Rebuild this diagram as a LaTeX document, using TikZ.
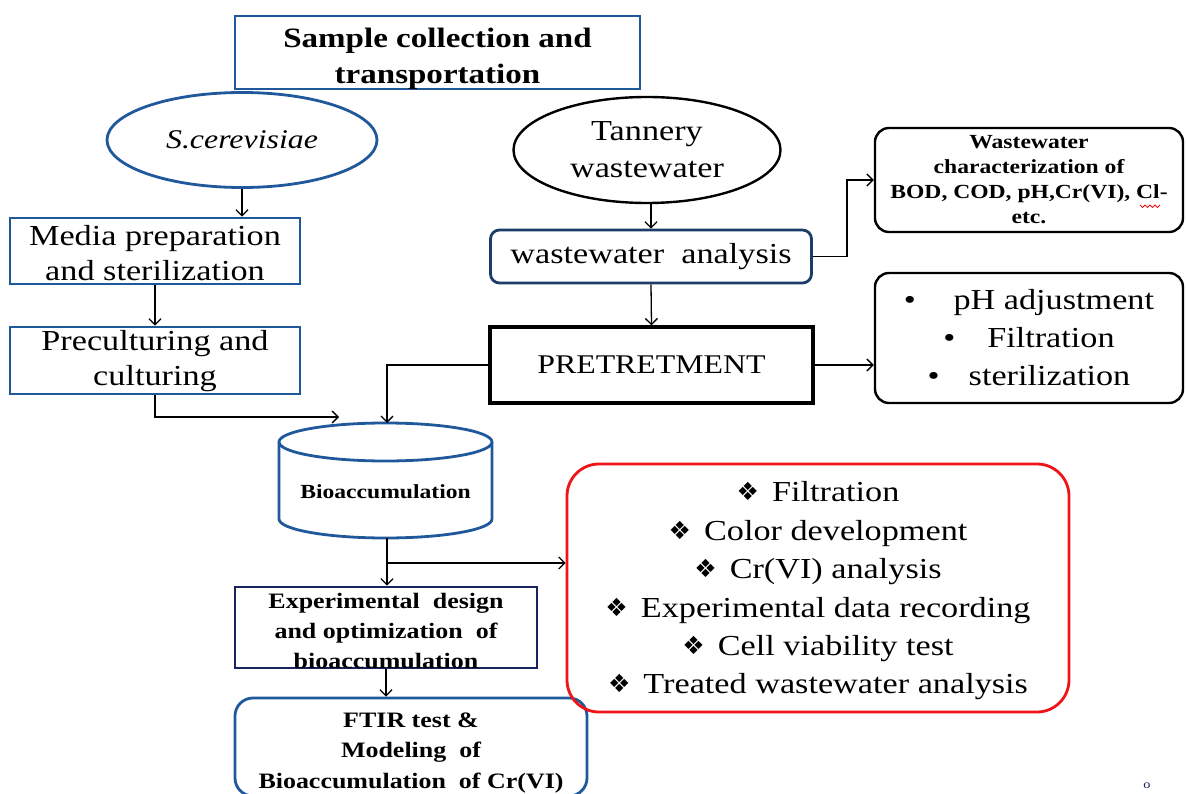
\documentclass[tikz,border=0pt]{standalone}
\usepackage{fontspec}
\setmainfont[FakeStretch=1.18]{Liberation Serif}
\newfontfamily\dejavu{DejaVu Sans}
\usetikzlibrary{arrows.meta,shapes.geometric}
\definecolor{bblue}{RGB}{32,88,156}
\definecolor{dblue}{RGB}{28,60,105}
\definecolor{navy}{RGB}{25,35,95}
\definecolor{rred}{RGB}{240,20,25}
\newcommand\fsz[2]{\fontsize{#1}{#2}\selectfont}
\newcommand\bul{\raisebox{1pt}{\dejavu\fontsize{25}{25}\selectfont ❖}\hspace{0.45em}}
\tikzset{
  bluebox/.style={draw=bblue, line width=2.8pt, inner sep=0pt, align=center},
  blackbox/.style={draw=black, line width=2.4pt, inner sep=0pt, align=center},
  arr/.style={-{Straight Barb[length=6pt,width=12pt]}, line width=1.3pt},
  txt/.style={align=center, inner sep=0pt},
}
\begin{document}
\begin{tikzpicture}[x=1pt,y=-1pt]
\fill[white] (0,0) rectangle (1186,794);
\useasboundingbox (0,0) rectangle (1186,794);

\node[bluebox, minimum width=405, minimum height=73,
  label={[txt, font={\fsz{28}{36}\bfseries}, yshift=-6pt]center:{Sample collection and\\transportation}}] (top) at (437.5,52.5) {};
\node[bluebox, ellipse, minimum width=270, minimum height=95, font={\fsz{27}{32}\itshape}] (sc) at (242,140)
  {S.cerevisiae};
\node[blackbox, ellipse, minimum width=267, minimum height=106, font={\fsz{29}{37}}] (tw) at (647,150)
  {Tannery\\wastewater};
\node[bluebox, minimum width=290, minimum height=66,
  label={[txt, font={\fsz{29}{35}}, yshift=-2pt]center:{Media preparation\\and sterilization}}] (med) at (155,251) {};
\node[bluebox, minimum width=290, minimum height=67,
  label={[txt, font={\fsz{29}{35}}, yshift=-1pt]center:{Preculturing and\\culturing}}] (pc) at (155,360.5) {};
\node[bluebox, draw=dblue, rounded corners=9pt, minimum width=321, minimum height=53, font={\fsz{29}{36}}] (wa) at (651,256.5)
  {wastewater\ \ analysis};
\node[blackbox, line width=3.2pt, minimum width=323, minimum height=76, font={\fsz{27}{32}}] (pre) at (651.5,365)
  {PRETRETMENT};
\node[blackbox, rounded corners=14pt, minimum width=308, minimum height=104, font={\fsz{20}{25}\bfseries}] (char) at (1029,180)
  {Wastewater\\characterization of\\BOD, COD, pH,Cr(VI), Cl-\\etc.};
\draw[rred, line width=0.9pt] (1140,205) -- (1142.5,207.5) -- (1145,205) -- (1147.5,207.5) -- (1150,205)
  -- (1152.5,207.5) -- (1155,205) -- (1157.5,207.5) -- (1160,205);
\node[blackbox, rounded corners=14pt, minimum width=308, minimum height=130, font={\fsz{29}{38}}] (ph) at (1029,338)
  {•\hspace{1.3em}pH adjustment\\•\hspace{1.1em}Filtration\\•\hspace{1em}sterilization};

% cylinder
\draw[bblue, line width=2.8pt] (279,442) -- (279,519)
  arc[start angle=180, end angle=360, x radius=106.5pt, y radius=19pt] -- (492,442);
\draw[bblue, line width=2.8pt] (385.5,442) ellipse[x radius=106.5pt, y radius=19pt];
\node[font={\fsz{20}{24}\bfseries}] (bio) at (385.5,492) {Bioaccumulation};
\coordinate (cyltop) at (387,423);
\coordinate (cylbot) at (387,538);

\node[bluebox, draw=navy, minimum width=302, minimum height=81,
  label={[txt, font={\fsz{22}{30}\bfseries}, yshift=-3pt]center:{Experimental\ \ design\\and optimization\ \ of\\bioaccumulation}}] (exp) at (386,627.5) {};
\node[bluebox, rounded corners=18pt, minimum width=352, minimum height=98,
  label={[txt, font={\fsz{22}{30.5}\bfseries}, yshift=-6pt]center:{FTIR test \&\\Modeling\ \ of\\Bioaccumulation\ \ of Cr(VI)}}] (ftir) at (411,747) {};
\node[draw=rred, line width=2.8pt, rounded corners=32pt, minimum width=502, minimum height=248,
  label={[txt, font={\fsz{29}{38.4}}, yshift=-3pt]center:{\bul Filtration\\\bul Color development\\\bul Cr(VI) analysis\\\bul Experimental data recording\\\bul Cell viability test\\\bul Treated wastewater analysis}}] (red) at (818,588) {};
\node[text=navy, font={\fsz{12}{12}}] (pg) at (1147,786) {o};

% connectors
\draw[arr] (sc.south) -- (sc.south |- med.north);
\draw[arr] (med.south) -- (pc.north);
\coordinate (pcend) at (339,417);
\draw[arr] (pc.south) |- (pcend);
\draw[arr] (pre.west) -| (cyltop);
\draw[arr] (tw.south -| wa.north) -- (wa.north);
\draw[arr] (wa.south) -- (pre.north);
\draw[arr] (wa.east) -- ++(34,0) |- (char.west);
\draw[arr] (pre.east) -- (pre.east -| ph.west);
\draw[arr] (cylbot) -- (cylbot |- exp.north);
\coordinate (br) at (387,563);
\draw[arr] (br) -- (br -| red.west);
\draw[arr] (exp.south) -- (exp.south |- ftir.north);
\end{tikzpicture}
\end{document}
